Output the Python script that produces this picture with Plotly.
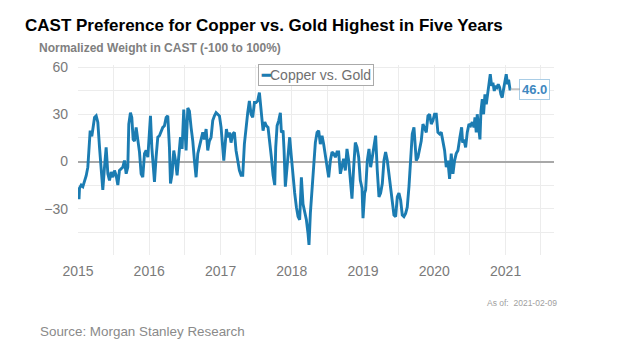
import plotly.graph_objects as go
import pandas as pd

# ---- data (decimal year, value) ----
years = [
    2015.007, 2015.014, 2015.021, 2015.045, 2015.068, 2015.091, 2015.115, 2015.138, 2015.152, 2015.171,
    2015.194, 2015.208, 2015.232, 2015.255, 2015.278, 2015.302, 2015.325, 2015.348, 2015.372, 2015.395,
    2015.419, 2015.442, 2015.465, 2015.489, 2015.512, 2015.535, 2015.559, 2015.582, 2015.606, 2015.629,
    2015.652, 2015.676, 2015.699, 2015.713, 2015.736, 2015.755, 2015.774, 2015.793, 2015.816, 2015.839,
    2015.863, 2015.886, 2015.909, 2015.933, 2015.956, 2015.980, 2016.003, 2016.017, 2016.036, 2016.059,
    2016.073, 2016.096, 2016.120, 2016.143, 2016.167, 2016.190, 2016.213, 2016.237, 2016.260, 2016.283,
    2016.298, 2016.321, 2016.344, 2016.368, 2016.391, 2016.414, 2016.438, 2016.461, 2016.484, 2016.499,
    2016.517, 2016.541, 2016.564, 2016.587, 2016.611, 2016.634, 2016.657, 2016.681, 2016.704, 2016.728,
    2016.751, 2016.774, 2016.798, 2016.821, 2016.844, 2016.868, 2016.891, 2016.915, 2016.938, 2016.961,
    2016.985, 2017.008, 2017.031, 2017.046, 2017.069, 2017.083, 2017.102, 2017.125, 2017.148, 2017.172,
    2017.195, 2017.218, 2017.242, 2017.265, 2017.289, 2017.312, 2017.335, 2017.359, 2017.382, 2017.405,
    2017.429, 2017.452, 2017.476, 2017.499, 2017.522, 2017.546, 2017.560, 2017.583, 2017.597, 2017.621,
    2017.644, 2017.667, 2017.691, 2017.714, 2017.738, 2017.761, 2017.775, 2017.794, 2017.817, 2017.840,
    2017.854, 2017.878, 2017.892, 2017.910, 2017.934, 2017.957, 2017.971, 2017.995, 2018.018, 2018.041,
    2018.065, 2018.088, 2018.111, 2018.135, 2018.158, 2018.182, 2018.205, 2018.228, 2018.242, 2018.261,
    2018.284, 2018.308, 2018.331, 2018.355, 2018.378, 2018.401, 2018.425, 2018.448, 2018.471, 2018.495,
    2018.518, 2018.542, 2018.565, 2018.588, 2018.612, 2018.635, 2018.658, 2018.682, 2018.705, 2018.728,
    2018.752, 2018.775, 2018.799, 2018.822, 2018.845, 2018.869, 2018.892, 2018.916, 2018.939, 2018.962,
    2018.986, 2019.000, 2019.023, 2019.037, 2019.060, 2019.084, 2019.107, 2019.130, 2019.154, 2019.177,
    2019.200, 2019.224, 2019.247, 2019.271, 2019.294, 2019.317, 2019.341, 2019.364, 2019.387, 2019.411,
    2019.434, 2019.458, 2019.481, 2019.504, 2019.528, 2019.551, 2019.574, 2019.598, 2019.621, 2019.645,
    2019.668, 2019.691, 2019.715, 2019.729, 2019.747, 2019.771, 2019.794, 2019.817, 2019.841, 2019.864,
    2019.888, 2019.911, 2019.934, 2019.958, 2019.981, 2020.004, 2020.028, 2020.051, 2020.075, 2020.098,
    2020.121, 2020.145, 2020.168, 2020.191, 2020.215, 2020.238, 2020.262, 2020.285, 2020.308, 2020.332,
    2020.360, 2020.384, 2020.398, 2020.416, 2020.440, 2020.463, 2020.487, 2020.510, 2020.533, 2020.557,
    2020.571, 2020.589, 2020.603, 2020.627, 2020.641, 2020.655, 2020.674, 2020.692, 2020.711, 2020.730,
    2020.748, 2020.767, 2020.786, 2020.805, 2020.823, 2020.842, 2020.861, 2020.879, 2020.898, 2020.917,
    2020.935, 2020.954, 2020.973, 2020.992, 2021.010, 2021.029, 2021.043, 2021.062, 2021.075,
]
copper_vs_gold = [
    -18, -24, -17, -15, -16, -13, -9, -3.6, 9, 19.6,
    16, 21.7, 28, 29, 25, 9, -5.7, -18, -3.6, 9,
    -7.8, -12, -6.7, -10, -5.7, -8.8, -15, -5.7, -4.6, -3.6,
    0.6, -7.8, -3.6, 23.8, 31, 28, 14, 13, 21.7, 13,
    6, -7.8, -10, 5, 7, 2.7, 25, 29, 9, -8.8,
    -13, 2.7, 15.4, 16.4, 19.6, 21.7, 22.7, 28, 29, 9,
    -14, -7.8, 7, 0.6, -8.8, 5, 15.4, 8, 33, 21.7,
    7, 34, 32, 21.7, 13, 0.6, -10, 5, 9, 14,
    18.5, 14, 20.6, 7, 13, 15.4, 26, 29, 31, 30,
    29, 21.7, 11, 0.6, 13, 20.6, 15.4, 18.5, 12, 17.5,
    18.5, 7, 0.6, -5.7, -8.8, -8.8, 11, 23.8, 31, 38.5,
    30, 28, 37.5, 37.5, 38.5, 43.8, 36.4, 28, 19.6, 25,
    22.7, 21.7, 13, 2.7, -8.8, -15, 9, 22.7, 26, 31,
    18.5, 19.6, 7, -16, -3.6, 10, 15.4, 2.7, -10, -20,
    -29, -35, -37, -10, -27, -33, -37, -45.7, -53, -33,
    -16, 0.6, 12, 18.5, 19.6, 11, 16.4, 11, 3.8, -1.5,
    -10, 0.6, 6, 5, 2.7, 6, 6, -7.8, -3.6, 1.7,
    -5.7, 8, 0.6, -14, -23.6, -3.6, 12, 9, 2.7, -12,
    -17, -36, -20, -18, 0.6, 8, -3.6, 2.7, 11, 16.4,
    -5.7, -22.5, -20, -14, 0.6, 6, 0.6, -7.8, -16, -24.6,
    -34, -35, -22.5, -20, -24.6, -34, -35, -33, -29, -16,
    0.6, 17.5, 21.7, 9, 0.6, 2.7, 7, 13, 23.8, 21.7,
    18.5, 29, 30, 23.8, 26, 30, 30, 18.5, 17.5, 18.5,
    13, 7, -3.6, 0.6, -11, 5, -7.8, 0.6, 5, 7,
    15.4, 21.7, 12, 14, 9, 18.5, 23.8, 22.7, 25, 21.7,
    28, 18.5, 30, 21.7, 14, 32, 39.6, 30, 42.7, 36.4,
    44.8, 49, 55.4, 48, 50, 44.8, 48, 47, 49, 47,
    42.7, 40.6, 46, 50, 55.4, 49, 52, 46, 46.0,
]
y_ticks = [-30, 0, 30, 60]
series_name = "Copper vs. Gold"
last_label = "46.0"
as_of = "2021-02-09"

base = pd.Timestamp("2015-01-01")
dates = [base + pd.to_timedelta((y - 2015) * 365.25, unit="D") for y in years]

LINE = "#1b7cb2"
GRID = "#ececec"
TICK = "#7a7a7a"
FONT = "Liberation Sans, Arial, sans-serif"

fig = go.Figure()
fig.add_trace(go.Scatter(
    x=dates, y=copper_vs_gold, mode="lines", name=series_name,
    line=dict(color=LINE, width=2.9), showlegend=False, hoverinfo="skip",
))

fig.update_layout(
    width=617, height=343,
    margin=dict(l=78, r=63, t=65, b=88),
    paper_bgcolor="white", plot_bgcolor="white",
    font=dict(family=FONT, color=TICK),
    title=dict(
        text="<b>CAST Preference for Copper vs. Gold Highest in Five Years</b>",
        font=dict(family=FONT, size=17, color="black"),
        xref="container", yref="container", x=25 / 617, xanchor="left",
        y=1 - 25 / 343, yanchor="middle",
    ),
    xaxis=dict(
        type="date", range=["2015-01-01", "2021-09-06"],
        dtick="M12", tick0="2015-01-01", tickformat="%Y",
        showgrid=True, gridcolor=GRID, gridwidth=1,
        minor=dict(dtick="M6", showgrid=True, gridcolor=GRID),
        showline=False, zeroline=False, ticks="",
        tickfont=dict(size=14, color=TICK), ticklabelstandoff=6,
    ),
    yaxis=dict(
        range=[-59.4, 61.3], tickvals=y_ticks,
        showgrid=True, gridcolor=GRID, gridwidth=1,
        minor=dict(dtick=15, tick0=0, showgrid=True, gridcolor=GRID),
        zeroline=True, zerolinecolor="#a8a8a8", zerolinewidth=1.5,
        showline=False, ticks="",
        tickfont=dict(size=14, color=TICK), ticklabelstandoff=9,
    ),
)

annotations = [
    dict(text="<b>Normalized Weight in CAST (-100 to 100%)</b>", xref="paper", yref="paper",
         x=-0.0861, y=1.087, xanchor="left", yanchor="middle", showarrow=False,
         font=dict(family=FONT, size=12, color="#808080")),
    dict(text="Source: Morgan Stanley Research", xref="paper", yref="paper",
         x=-0.084, y=-0.4026, xanchor="left", yanchor="middle", showarrow=False,
         font=dict(family=FONT, size=13.4, color="#8a8a8a")),
    dict(text="As of:  " + as_of, xref="paper", yref="paper",
         x=0.933, y=-0.255, xanchor="center", yanchor="middle", showarrow=False,
         font=dict(family=FONT, size=8.5, color="#a0a0a0")),
    dict(text="<span style='color:%s'><b>━</b></span>%s" % (LINE, series_name),
         xref="paper", yref="paper", x=0.5, y=0.95, xanchor="center", yanchor="middle",
         showarrow=False, bgcolor="white", bordercolor="#aaaaaa", borderwidth=1, borderpad=2,
         font=dict(family=FONT, size=14, color="#707070")),
    dict(text="<b>%s</b>" % last_label, x=dates[-1], y=copper_vs_gold[-1], xref="x", yref="y",
         showarrow=True, arrowhead=0, arrowwidth=1, arrowcolor="#9a9a9a", ax=24, ay=0,
         bgcolor="white", bordercolor="#a9cde6", borderwidth=1, borderpad=2,
         font=dict(family=FONT, size=13, color="#3f88bf")),
]
fig.update_layout(annotations=annotations)

fig.write_html("out.html")
